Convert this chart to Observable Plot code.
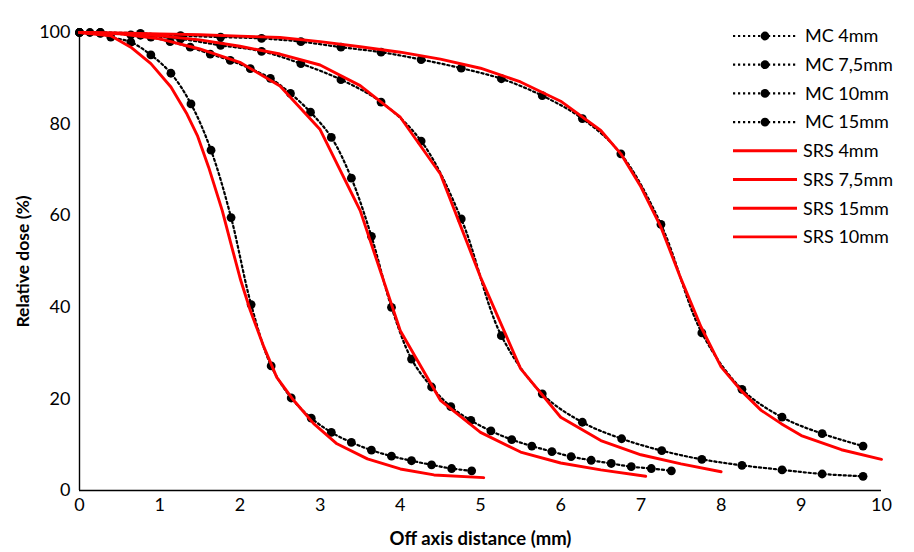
<!DOCTYPE html>
<html><head><meta charset="utf-8">
<script src="https://cdn.jsdelivr.net/npm/d3@7"></script>
<script src="https://cdn.jsdelivr.net/npm/@observablehq/plot@0.6"></script>
<style>
body{margin:0;background:#fff;}
#wrap{position:relative;width:914px;height:552px;}
#legend{position:absolute;left:0;top:0;pointer-events:none;}
g[aria-label="x-axis label"] text{font-weight:700;font-size:18.5px;}
g[aria-label="y-axis label"] text{font-weight:700;font-size:17.5px;}
</style></head><body><div id="wrap"></div>
<script>
// ---- data ----
const xTicks = [0,1,2,3,4,5,6,7,8,9,10];
const yTicks = [0,20,40,60,80,100];
const xLabel = "Off axis distance (mm)";
const yLabel = "Relative dose (%)";

const mcX4  = [0,0.13,0.26,0.39,0.64,0.89,1.14,1.39,1.64,1.89,2.14,2.39,2.64,2.89,3.14,3.39,3.64,3.89,4.14,4.39,4.64,4.89];
const mcY4  = [100,100,99.8,99,97.9,95.1,91.1,84.4,74.3,59.6,40.6,27.2,20.2,15.8,12.7,10.5,8.8,7.5,6.5,5.6,4.8,4.3];
const mcX75 = [0,0.26,0.64,0.89,1.13,1.38,1.63,1.88,2.13,2.38,2.63,2.88,3.14,3.39,3.64,3.89,4.14,4.39,4.63,4.88,5.13,5.39,5.64,5.89,6.13,6.38,6.63,6.88,7.13,7.38];
const mcY75 = [100,99.9,99.5,99.0,98.0,96.8,95.3,93.9,92.1,90.0,86.7,82.6,77.1,68.2,55.5,40.0,28.7,22.6,18.3,15.3,13.0,11.1,9.7,8.5,7.4,6.6,5.9,5.2,4.8,4.3];
const mcX10 = [0,0.26,0.76,1.26,1.76,2.27,2.76,3.26,3.76,4.26,4.76,5.26,5.77,6.27,6.76,7.26,7.76,8.26,8.76,9.26,9.77];
const mcY10 = [100,100,99.4,98.6,97.2,95.9,93.2,89.7,84.8,76.3,59.3,33.8,21.1,14.9,11.3,8.7,6.8,5.5,4.5,3.6,3.1];
const mcX15 = [0,0.26,0.76,1.26,1.76,2.27,2.76,3.26,3.76,4.26,4.76,5.26,5.77,6.27,6.75,7.25,7.76,8.26,8.76,9.26,9.77];
const mcY15 = [100,100,99.8,99.3,99.0,98.7,98.0,96.8,95.7,94.1,92.2,89.9,86.2,81.2,73.5,58.1,34.4,22.1,16.0,12.4,9.7];

const srsX4  = [0,0.39,0.64,0.89,1.14,1.34,1.47,1.61,1.78,1.90,2.01,2.13,2.30,2.46,2.67,2.92,3.21,3.59,4.0,4.42,5.04];
const srsY4  = [100,99.3,96.8,93.2,88.1,82.2,77.5,70.6,61.1,53.1,45.9,39.3,31.3,24.7,19.7,14.6,10.2,6.9,4.7,3.4,2.8];
const srsX75 = [0,0.5,1.0,1.5,2.0,2.5,3.0,3.5,4.0,4.5,5.0,5.5,6.0,6.5,7.06];
const srsY75 = [100,99.7,98.6,96.4,93.5,88.3,78.8,61.1,34.9,19.7,12.7,8.4,6.0,4.5,3.1];
const srsX10 = [0,0.5,1.0,1.5,2.0,2.5,3.0,3.5,4.0,4.5,5.0,5.5,6.0,6.5,7.0,7.5,8.0];
const srsY10 = [100,99.8,99.3,98.4,97.0,95.3,92.9,88.4,81.5,69.1,46.6,26.6,16.0,10.9,7.8,5.8,4.1];
const srsX15 = [0,0.5,1.0,1.5,2.0,2.5,3.0,3.5,4.0,4.5,5.0,5.5,6.0,6.5,6.75,7.0,7.25,7.5,7.75,8.0,8.25,8.5,8.75,9.0,9.5,10.0];
const srsY15 = [100,99.9,99.7,99.5,99.2,98.9,98.0,96.9,95.7,94.2,92.2,89.2,85.0,78.6,73.5,66.3,57.5,46.2,35.7,27.0,21.8,17.5,14.6,12.0,8.9,6.8];

const mcNames  = ["MC 4mm","MC 7,5mm","MC 10mm","MC 15mm"];
const srsNames = ["SRS 4mm","SRS 7,5mm","SRS 15mm","SRS 10mm"];

// ---- tables ----
const mcSeries = [[mcNames[0],mcX4,mcY4],[mcNames[1],mcX75,mcY75],[mcNames[2],mcX10,mcY10],[mcNames[3],mcX15,mcY15]];
const srsSeries = [[srsNames[0],srsX4,srsY4],[srsNames[1],srsX75,srsY75],[srsNames[2],srsX15,srsY15],[srsNames[3],srsX10,srsY10]];
const toRows = ss => ss.flatMap(([name,xs,ys]) => xs.map((x,i)=>({series:name,x,y:ys[i]})));
const mcRows = toRows(mcSeries);
const srsRows = toRows(srsSeries);

const W = 914, H = 552;
const FONT = "Lato, 'Open Sans', sans-serif";
const plot = Plot.plot({
  width: W, height: H,
  marginLeft: 79, marginRight: 33, marginTop: 32, marginBottom: 62,
  style: {fontFamily: FONT, fontSize: "18px", color: "#000", background: "#fff", overflow: "visible"},
  x: {domain: [0,10]},
  y: {domain: [0,100]},
  marks: [
    Plot.axisX({ticks: xTicks, tickSize: 0, tickPadding: 8, label: xLabel, labelAnchor: "center", labelArrow: "none", labelOffset: 54}),
    Plot.axisY({ticks: yTicks, tickSize: 0, tickPadding: 9, label: yLabel, labelAnchor: "center", labelArrow: "none", labelOffset: 63}),
    Plot.ruleX([0], {stroke: "#000", strokeWidth: 1.4}),
    Plot.ruleY([0], {stroke: "#000", strokeWidth: 1.4}),
    Plot.line(mcRows, {x: "x", y: "y", z: "series", stroke: "#000", strokeWidth: 2.2, strokeDasharray: "2.2,2.8", curve: "catmull-rom"}),
    Plot.dot(mcRows, {x: "x", y: "y", r: 4.4, fill: "#000", stroke: "none"}),
    Plot.line(srsRows, {x: "x", y: "y", z: "series", stroke: "#ff0000", strokeWidth: 2.9})
  ]
});
const wrap = document.getElementById("wrap");
wrap.appendChild(plot);

// ---- legend (HTML overlay) ----
const legendNames = [...mcNames, ...srsNames];
const lg = d3.select(wrap).append("svg").attr("id","legend").attr("width",W).attr("height",H)
  .style("font-family",FONT).style("font-size","18px");
legendNames.forEach((name,i) => {
  const y = 36 + i*28.7;
  const g = lg.append("g");
  if (i < 4) {
    g.append("line").attr("x1",733).attr("x2",797).attr("y1",y).attr("y2",y)
      .attr("stroke","#000").attr("stroke-width",2.2).attr("stroke-dasharray","2.2,2.8");
    g.append("circle").attr("cx",765).attr("cy",y).attr("r",4.4).attr("fill","#000");
  } else {
    g.append("line").attr("x1",733).attr("x2",797).attr("y1",y).attr("y2",y)
      .attr("stroke","#ff0000").attr("stroke-width",2.9);
  }
  g.append("text").attr("x", i < 4 ? 805 : 803).attr("y",y).attr("dy","0.35em").attr("fill","#000").text(name);
});
</script>
</body></html>
